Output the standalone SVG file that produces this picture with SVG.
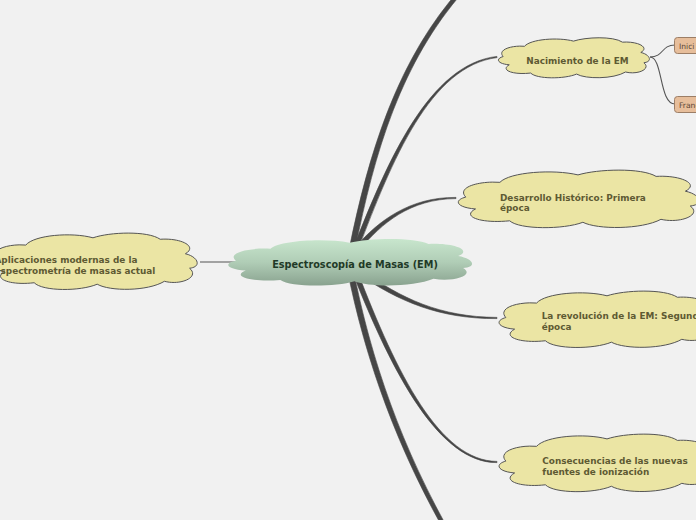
<svg xmlns="http://www.w3.org/2000/svg" xmlns:xlink="http://www.w3.org/1999/xlink" width="696" height="520" viewBox="0 0 696 520">
<style>
.bg{fill:#f1f1f1}
.br{fill:#464646;stroke:#464646;stroke-width:0.6;stroke-linejoin:round}
.thin{fill:none;stroke:#555;stroke-width:1.1}
.cloud{fill:#ebe5a4;stroke:#555;stroke-width:1}
.ctr{fill:url(#gC);stroke:none}
.t{font-family:"DejaVu Sans","Verdana",sans-serif;font-weight:bold;font-size:8.9px;fill:#5e5a33}
.tc{font-family:"DejaVu Sans","Verdana",sans-serif;font-weight:bold;font-size:9.7px;fill:#1f3a27;text-anchor:middle}
.sub{fill:#e7be9b;stroke:#9c7e66;stroke-width:1}
.ts{font-family:"DejaVu Sans","Verdana",sans-serif;font-size:7.6px;fill:#5a4636}
</style>
<defs>
<linearGradient id="gC" x1="0" y1="0" x2="0" y2="1">
<stop offset="0" stop-color="#c8e6cd"/>
<stop offset="0.5" stop-color="#b0cdb6"/>
<stop offset="1" stop-color="#89a28f"/>
</linearGradient>
<path id="cl" vector-effect="non-scaling-stroke" d="M4,19 C0,12 10,8 18,9 C22,2 40,0 50,4 C58,0 76,-1 82,5 C92,4 100,10 94,15 C100,17 102,24 96,25 C101,31 92,37 84,34 C76,41 58,41 52,36 C44,41 26,41 22,35 C10,37 2,32 8,27 C0,26 -1,21 4,19 Z"/>
</defs>
<rect class="bg" x="0" y="0" width="696" height="520"/>
<g id="connectors">
<path class="thin" d="M200,262 L320,262"/>
<path class="br" d="M354.9,250.6 C374.6,150.5 401.7,61.5 463.5,-8.7 L460.5,-11.3 C398.3,58.5 369.4,149.5 349.1,249.4 Z"/>
<path class="br" d="M358.3,248.9 C391.9,160.7 430.1,66 497.1,57.6 L496.9,56.4 C429.9,64 388.1,159.3 353.7,247.1 Z"/>
<path class="br" d="M359.9,249.6 C381.5,223.3 410,199 456,198.6 L456,197.4 C410,197 378.5,220.7 356.1,246.4 Z"/>
<path class="br" d="M358.6,274 C398.9,301.6 440,319 497,318.6 L497,317.4 C440,317 401.1,298.4 361.4,270 Z"/>
<path class="br" d="M352.7,272.9 C393.1,375.7 440,463 497,462.6 L497,461.4 C440,461 396.9,374.3 357.3,271.1 Z"/>
<path class="br" d="M347.1,268.6 C365.3,360.5 398,451.2 450.3,541 L453.7,539 C402,448.8 370.7,359.5 352.9,267.4 Z"/>
<path class="thin" d="M650,57 C664,57 661,45 675,45"/>
<path class="thin" d="M650,57 C663,57 659,104 675,104"/>
</g>
<g id="n-center">
<use xlink:href="#cl" class="ctr" transform="translate(226,238) scale(2.47,1.2)"/>
<text class="tc" x="355" y="267.5">Espectroscopía de Masas (EM)</text>
</g>
<g id="n-aplicaciones">
<use xlink:href="#cl" class="cloud" transform="translate(-12,232) scale(2.1,1.45)"/>
<text class="t" x="-5.5" y="263">Aplicaciones modernas de la</text>
<text class="t" x="-5.5" y="274">espectrometría de masas actual</text>
</g>
<g id="n-nacimiento">
<use xlink:href="#cl" class="cloud" transform="translate(497,37) scale(1.53,1.03)"/>
<text class="t" x="577.5" y="63.5" text-anchor="middle">Nacimiento de la EM</text>
</g>
<g id="n-inicio">
<rect class="sub" x="674.5" y="37.5" width="40" height="16" rx="3"/>
<text class="ts" x="679" y="48.5">Inici</text>
</g>
<g id="n-franc">
<rect class="sub" x="674.5" y="96.5" width="40" height="16" rx="3"/>
<text class="ts" x="679" y="107.5">Franc</text>
</g>
<g id="n-desarrollo">
<use xlink:href="#cl" class="cloud" transform="translate(456,169) scale(2.44,1.48)"/>
<text class="t" x="500" y="200.7">Desarrollo Histórico: Primera</text>
<text class="t" x="500" y="211.2">época</text>
</g>
<g id="n-revolucion">
<use xlink:href="#cl" class="cloud" transform="translate(497,290) scale(2.2,1.45)"/>
<text class="t" x="541.7" y="319.3">La revolución de la EM: Segunda</text>
<text class="t" x="541.7" y="330">época</text>
</g>
<g id="n-consecuencias">
<use xlink:href="#cl" class="cloud" transform="translate(497,433) scale(2.2,1.48)"/>
<text class="t" x="542.3" y="464.3">Consecuencias de las nuevas</text>
<text class="t" x="542.3" y="474.8">fuentes de ionización</text>
</g>
</svg>
